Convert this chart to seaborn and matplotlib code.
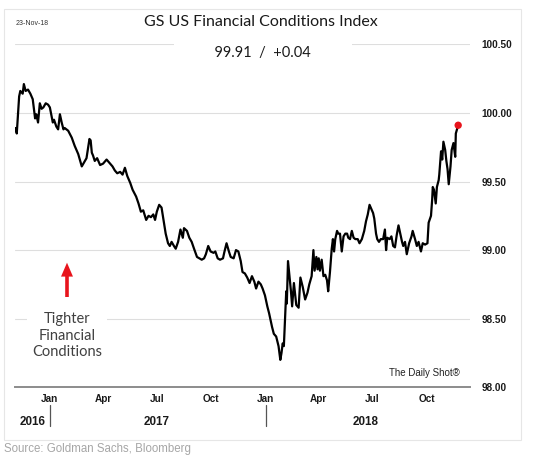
import matplotlib
matplotlib.use("Agg")
import matplotlib.pyplot as plt
import matplotlib.dates as mdates
import matplotlib.transforms as mtrans
from matplotlib.patches import Rectangle
from matplotlib.lines import Line2D
import seaborn as sns
import pandas as pd

# ---------------- data ----------------
dates = [
    "2016-11-04", "2016-11-06", "2016-11-10", "2016-11-12", "2016-11-16", "2016-11-18", "2016-11-21", "2016-11-25", "2016-11-29", "2016-12-03",
    "2016-12-07", "2016-12-09", "2016-12-12", "2016-12-15", "2016-12-18", "2016-12-21", "2016-12-25", "2016-12-29", "2017-01-01", "2017-01-06",
    "2017-01-08", "2017-01-12", "2017-01-15", "2017-01-18", "2017-01-21", "2017-01-24", "2017-01-26", "2017-02-01", "2017-02-07", "2017-02-12",
    "2017-02-18", "2017-02-24", "2017-02-28", "2017-03-04", "2017-03-09", "2017-03-11", "2017-03-13", "2017-03-15", "2017-03-18", "2017-03-22",
    "2017-03-27", "2017-04-01", "2017-04-07", "2017-04-13", "2017-04-17", "2017-04-21", "2017-04-25", "2017-04-30", "2017-05-04", "2017-05-08",
    "2017-05-12", "2017-05-17", "2017-05-21", "2017-05-27", "2017-05-31", "2017-06-04", "2017-06-08", "2017-06-13", "2017-06-17", "2017-06-21",
    "2017-06-25", "2017-06-28", "2017-07-01", "2017-07-05", "2017-07-09", "2017-07-13", "2017-07-16", "2017-07-20", "2017-07-23", "2017-07-26",
    "2017-07-30", "2017-08-02", "2017-08-06", "2017-08-10", "2017-08-14", "2017-08-16", "2017-08-21", "2017-08-25", "2017-08-29", "2017-09-02",
    "2017-09-07", "2017-09-11", "2017-09-15", "2017-09-19", "2017-09-22", "2017-09-26", "2017-09-30", "2017-10-05", "2017-10-08", "2017-10-12",
    "2017-10-16", "2017-10-21", "2017-10-23", "2017-10-27", "2017-10-31", "2017-11-03", "2017-11-08", "2017-11-12", "2017-11-16", "2017-11-20",
    "2017-11-23", "2017-11-27", "2017-12-01", "2017-12-05", "2017-12-09", "2017-12-13", "2017-12-16", "2017-12-20", "2017-12-24", "2017-12-27",
    "2017-12-31", "2018-01-04", "2018-01-07", "2018-01-12", "2018-01-15", "2018-01-19", "2018-01-23", "2018-01-26", "2018-01-28", "2018-01-30",
    "2018-02-01", "2018-02-04", "2018-02-05", "2018-02-06", "2018-02-08", "2018-02-10", "2018-02-13", "2018-02-15", "2018-02-18", "2018-02-22",
    "2018-02-26", "2018-03-01", "2018-03-05", "2018-03-09", "2018-03-13", "2018-03-16", "2018-03-20", "2018-03-23", "2018-03-25", "2018-03-28",
    "2018-03-30", "2018-04-01", "2018-04-03", "2018-04-06", "2018-04-09", "2018-04-12", "2018-04-15", "2018-04-17", "2018-04-20", "2018-04-23",
    "2018-04-25", "2018-04-27", "2018-04-29", "2018-05-02", "2018-05-04", "2018-05-07", "2018-05-10", "2018-05-13", "2018-05-16", "2018-05-19",
    "2018-05-21", "2018-05-24", "2018-05-27", "2018-05-30", "2018-06-02", "2018-06-06", "2018-06-09", "2018-06-13", "2018-06-17", "2018-06-20",
    "2018-06-23", "2018-06-26", "2018-06-29", "2018-07-02", "2018-07-04", "2018-07-07", "2018-07-09", "2018-07-12", "2018-07-15", "2018-07-19",
    "2018-07-22", "2018-07-24", "2018-07-26", "2018-07-30", "2018-08-02", "2018-08-05", "2018-08-08", "2018-08-11", "2018-08-14", "2018-08-17",
    "2018-08-20", "2018-08-22", "2018-08-25", "2018-08-28", "2018-09-01", "2018-09-05", "2018-09-07", "2018-09-11", "2018-09-14", "2018-09-17",
    "2018-09-21", "2018-09-24", "2018-09-28", "2018-10-02", "2018-10-04", "2018-10-08", "2018-10-10", "2018-10-11", "2018-10-13", "2018-10-16",
    "2018-10-18", "2018-10-21", "2018-10-22", "2018-10-25", "2018-10-27", "2018-10-29", "2018-11-01", "2018-11-03", "2018-11-05", "2018-11-07",
    "2018-11-10", "2018-11-12", "2018-11-15", "2018-11-18", "2018-11-19", "2018-11-21", "2018-11-23",
]
values = [
    99.89, 99.85, 100.12, 100.16, 100.14, 100.21, 100.16, 100.17, 100.14, 100.10,
    99.96, 99.99, 99.93, 100.07, 100.03, 100.04, 100.07, 100.06, 100.04, 99.93,
    99.95, 99.90, 99.88, 99.99, 99.93, 99.88, 99.89, 99.87, 99.82, 99.76,
    99.70, 99.61, 99.64, 99.67, 99.81, 99.80, 99.71, 99.69, 99.65, 99.67,
    99.62, 99.63, 99.66, 99.63, 99.61, 99.58, 99.56, 99.57, 99.55, 99.60,
    99.54, 99.49, 99.44, 99.39, 99.34, 99.28, 99.29, 99.22, 99.25, 99.24,
    99.26, 99.22, 99.28, 99.33, 99.31, 99.20, 99.12, 99.05, 99.03, 99.06,
    99.03, 99.01, 99.06, 99.15, 99.09, 99.16, 99.14, 99.09, 99.06, 99.01,
    98.95, 98.94, 98.93, 98.94, 98.97, 99.03, 98.99, 98.98, 98.99, 98.94,
    98.93, 98.94, 98.98, 99.05, 98.99, 98.95, 98.94, 99.00, 98.99, 98.92,
    98.84, 98.83, 98.80, 98.76, 98.81, 98.77, 98.72, 98.77, 98.75, 98.72,
    98.67, 98.59, 98.54, 98.44, 98.39, 98.37, 98.30, 98.20, 98.25, 98.32,
    98.30, 98.61, 98.70, 98.61, 98.92, 98.83, 98.70, 98.59, 98.76, 98.60,
    98.58, 98.80, 98.73, 98.64, 98.69, 98.75, 98.81, 99.00, 98.85, 98.95,
    98.86, 98.94, 98.85, 98.93, 98.81, 98.82, 98.78, 98.70, 98.84, 99.01,
    99.08, 98.99, 99.08, 99.14, 99.12, 99.12, 98.99, 99.10, 99.12, 99.12,
    99.09, 99.08, 99.14, 99.09, 99.08, 99.08, 99.05, 99.08, 99.14, 99.21,
    99.26, 99.33, 99.30, 99.27, 99.23, 99.12, 99.08, 99.06, 99.08, 99.08,
    99.15, 99.00, 99.09, 99.08, 99.10, 99.03, 99.02, 99.11, 99.18, 99.12,
    99.06, 99.03, 99.06, 98.97, 99.05, 99.10, 99.14, 99.08, 99.03, 99.06,
    98.99, 99.05, 99.04, 99.05, 99.20, 99.25, 99.37, 99.46, 99.44, 99.34,
    99.46, 99.51, 99.55, 99.72, 99.66, 99.79, 99.73, 99.65, 99.59, 99.48,
    99.61, 99.73, 99.78, 99.68, 99.85, 99.88, 99.91,
]
last_value = 99.91
last_change = 0.04

y_ticks = [98.00, 98.50, 99.00, 99.50, 100.00, 100.50]
x_tick_dates = ["2017-01-01", "2017-04-01", "2017-07-01", "2017-10-01",
                "2018-01-01", "2018-04-01", "2018-07-01", "2018-10-01"]
x_tick_labels = ["Jan", "Apr", "Jul", "Oct", "Jan", "Apr", "Jul", "Oct"]
year_labels = ["2016", "2017", "2018"]
year_label_dates = ["2016-12-25", "2017-07-01", "2018-06-20"]
year_label_align = ["right", "center", "center"]
year_separators = ["2017-01-01", "2018-01-01"]
x_range = ["2016-11-03", "2018-12-13"]

title = "GS US Financial Conditions Index"
date_stamp = "23-Nov-18"
source = "Source: Goldman Sachs, Bloomberg"
brand = "The Daily Shot\u00ae"
annotation = "Tighter\nFinancial\nConditions"

df = pd.DataFrame({"date": pd.to_datetime(dates), "value": values})

# ---------------- style ----------------
sns.set_style("white")
plt.rcParams["font.family"] = ["Liberation Sans", "DejaVu Sans"]

fig = plt.figure(figsize=(5.4, 4.59), dpi=100)
ax = fig.add_axes([15 / 540, 71.7 / 459, 455 / 540, 343 / 459])

sns.lineplot(data=df, x="date", y="value", ax=ax, color="black", lw=1.6)
sns.scatterplot(data=df.iloc[[-1]], x="date", y="value", ax=ax, color="#e8141c",
                s=28, edgecolor="none", zorder=5)

ax.set_ylim(y_ticks[0], y_ticks[-1])
ax.set_xlim(pd.to_datetime(x_range[0]), pd.to_datetime(x_range[1]))
ax.set_xlabel("")
ax.set_ylabel("")

ax.yaxis.tick_right()
ax.set_yticks(y_ticks)
ax.set_yticklabels([f"{v:.2f}" for v in y_ticks], fontweight="bold", fontsize=7.2)
ax.tick_params(axis="y", length=0, pad=8.5, colors="#1a1a1a")
for lab in ax.get_yticklabels():
    lab.set_horizontalalignment("left")

ax.set_xticks(pd.to_datetime(x_tick_dates))
ax.set_xticklabels(x_tick_labels, fontweight="bold", fontsize=7.2)
ax.tick_params(axis="x", direction="inout", length=4, width=1, color="#8c8c8c",
               pad=3, labelcolor="#1a1a1a")

ax.grid(axis="y", color="#dedede", lw=0.8)
ax.grid(axis="x", visible=False)
for s in ["top", "left", "right"]:
    ax.spines[s].set_visible(False)
ax.spines["bottom"].set_color("#8c8c8c")
ax.spines["bottom"].set_linewidth(1.4)
ax.set_axisbelow(True)

# year labels and separators
blend = mtrans.blended_transform_factory(ax.transData, fig.transFigure)
for lab, d, ha in zip(year_labels, year_label_dates, year_label_align):
    ax.text(mdates.date2num(pd.to_datetime(d)), 1 - 421.7 / 459, lab, transform=blend,
            ha=ha, va="center", fontsize=8.4, fontweight="bold", color="#1a1a1a")
for d in year_separators:
    xd = mdates.date2num(pd.to_datetime(d))
    fig.add_artist(Line2D([xd, xd], [1 - 405 / 459, 1 - 426 / 459], transform=blend,
                          color="#555555", lw=0.9))

# texts
fig.text(261 / 540, 1 - 21.7 / 459, title, ha="center", va="center",
         fontsize=11.5, family=["Lato", "DejaVu Sans"], color="#1a1a1a")
fig.text(15.5 / 540, 1 - 23.3 / 459, date_stamp, ha="left", va="center",
         fontsize=5, color="#333333")
fig.text(263 / 540, 1 - 53.3 / 459,
         f"          {last_value:.2f}  /  {last_change:+.2f}          ",
         ha="center", va="center", fontsize=10.5, family=["Lato", "DejaVu Sans"],
         color="#1a1a1a",
         bbox=dict(boxstyle="square,pad=0.2", fc="white", ec="none"))
fig.text(67 / 540, 1 - 335.7 / 459, annotation, ha="center", va="center",
         fontsize=10.5, family=["Lato", "DejaVu Sans"], color="#404040",
         linespacing=1.23,
         bbox=dict(boxstyle="square,pad=0.35", fc="white", ec="none"))
fig.text(460 / 540, 1 - 372.7 / 459, brand, ha="right", va="center",
         fontsize=7, color="#222222")
fig.text(4 / 540, 1 - 449 / 459, source, ha="left", va="center",
         fontsize=8.3, color="#a6a6a6")

ax.annotate("", xy=(67 / 540, 1 - 262.7 / 459), xytext=(67 / 540, 1 - 297 / 459),
            xycoords="figure fraction", textcoords="figure fraction",
            arrowprops=dict(facecolor="#e8141c", edgecolor="none", width=2.6,
                            headwidth=8.6, headlength=10, shrink=0))

fig.add_artist(Rectangle((4 / 540, 1 - 440 / 459), 516.7 / 540, 430.7 / 459,
                         transform=fig.transFigure, fill=False,
                         edgecolor="#e6e6e6", lw=0.8))

fig.savefig("out.png", dpi=100, facecolor="white")
